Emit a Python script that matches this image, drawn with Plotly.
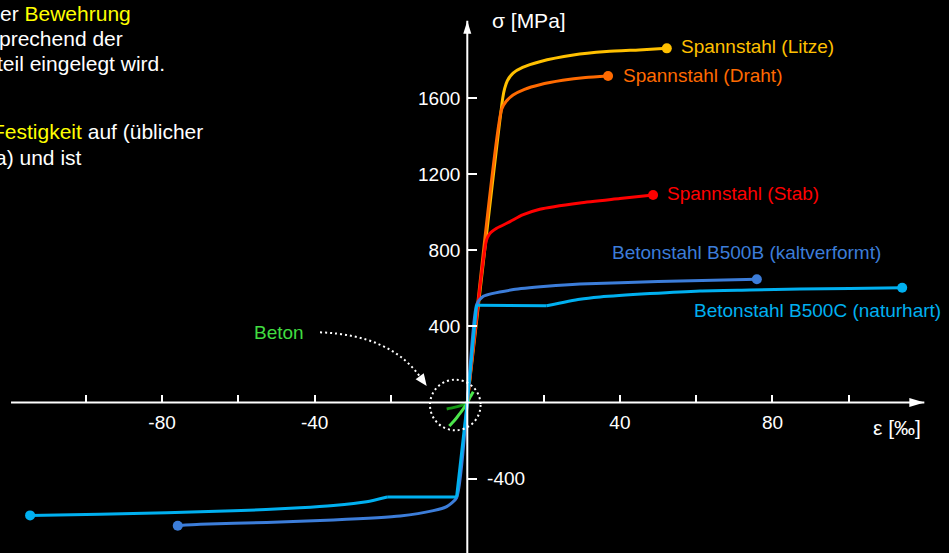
import plotly.graph_objects as go

FONT = "Liberation Sans, Arial, Helvetica, sans-serif"

# ---------------------------------------------------------------------------
# Stress-strain curves: strain in ‰, stress in MPa
# ---------------------------------------------------------------------------
litze_eps = [0, 9.3, 9.8, 10.5, 12.0, 14.5, 19.0, 27.8, 36.5, 45.0, 52.3]
litze_sig = [0, 1600, 1650, 1690, 1730, 1760, 1790, 1825, 1843, 1852, 1860]

draht_eps = [0, 9.0, 10.2, 12.0, 15.0, 19.0, 25.0, 31.0, 36.9]
draht_sig = [0, 1540, 1582, 1615, 1645, 1669, 1692, 1707, 1715]

stab_eps = [0, 5.0, 5.8, 7.7, 11.2, 14.5, 19.0, 29.5, 40.0, 48.7]
stab_sig = [0, 850, 885, 915, 950, 985, 1015, 1048, 1071, 1090]

b500b_eps = [-75.9, -70.0, -52.6, -35.1, -17.6, -8.9, -5.4, -2.8, 0,
             2.46, 4.2, 12.1, 20.8, 29.5, 50.0, 75.9]
b500b_sig = [-647, -640, -630, -617, -596, -568, -547, -500, 0,
             514, 558, 593, 610, 622, 635, 647]

b500c_eps = [-114.6, -96.3, -78.8, -61.3, -43.9, -35.1, -26.4, -21.0, -2.8, 0,
             2.45, 20.8, 29.5, 34.8, 47.9, 61.0, 74.0, 87.2, 100.3, 114.0]
b500c_sig = [-593, -587, -579, -569, -553, -541, -521, -496, -496, 0,
             511, 508, 542, 554, 572, 586, 591, 596, 599, 603]
# indices where the B500C curve has a sharp kink
b500c_kinks = [7, 8, 10, 11]

beton_eps = [-5.4, -3.7, -1.9, -0.6, 0]
beton_sig = [-34, -27, -18, -8, 0]

beton_hf_eps = [-4.72, -3.67, -2.78, -1.91, -1.05, -0.16, 0.71, 1.57]
beton_hf_sig = [-123, -101, -80, -57, -34, -8, 27, 57]

# axis ticks
x_tickvals = [-100, -80, -60, -40, -20, 20, 40, 60, 80, 100]
x_ticktext = ["", "-80", "", "-40", "", "", "40", "", "80", ""]
y_tickvals = [400, 800, 1200, 1600]
y_ticktext = ["400", "800", "1200", "1600"]
y2_tickvals = [-400]
y2_ticktext = ["-400"]

# side text (cut at the left border of the slide)
side_lines = [
    ("er <span style='color:#FFFF00'>Bewehrung</span>", 131.7, 13.5),
    ("prechend der", 124.0, 38.5),
    ("teil eingelegt wird.", 166.0, 64.0),
    ("<span style='color:#FFFF00'>Festigkeit</span> auf (üblicher", 204.0, 131.5),
    ("a) und ist", 82.7, 157.5),
]

W, H = 949, 553
X_RANGE = [-122.49, 126.27]
Y_RANGE = [-790.4, 2114.0]
Y_AXIS_POS = 467.3 / W          # paper x of the vertical axis
X_AXIS_POS = (H - 402.5) / H    # paper y of the horizontal axis

C_LITZE = "#FFC000"
C_DRAHT = "#FF6A00"
C_STAB = "#FF0000"
C_B500B = "#3C7DD9"
C_B500C = "#00B0F0"
C_BETON_DARK = "#129612"
C_BETON_LIGHT = "#4CE64C"
C_BETON_TXT = "#40DD40"

LABEL_SIZE = 19
TITLE_SIZE = 21

fig = go.Figure()


def curve(xs, ys, color, ends, kinks=()):
    """Smooth line through the points; sharp corners at the given indices."""
    cuts = [0] + list(kinks) + [len(xs) - 1]
    for a, b in zip(cuts[:-1], cuts[1:]):
        fig.add_trace(go.Scatter(
            x=xs[a:b + 1], y=ys[a:b + 1], mode="lines", hoverinfo="skip",
            line=dict(color=color, width=3, shape="spline", smoothing=0.6),
        ))
    if ends:
        idx = [0, len(xs) - 1] if ends == 2 else [len(xs) - 1]
        fig.add_trace(go.Scatter(
            x=[xs[i] for i in idx], y=[ys[i] for i in idx], mode="markers",
            hoverinfo="skip", marker=dict(color=color, size=10),
        ))


curve(beton_eps, beton_sig, C_BETON_DARK, 0)
curve(beton_hf_eps, beton_hf_sig, C_BETON_LIGHT, 0)
curve(litze_eps, litze_sig, C_LITZE, 1)
curve(draht_eps, draht_sig, C_DRAHT, 1)
curve(stab_eps, stab_sig, C_STAB, 1)
curve(b500b_eps, b500b_sig, C_B500B, 2)
curve(b500c_eps, b500c_sig, C_B500C, 2, b500c_kinks)
fig.add_trace(go.Scatter(x=[], y=[], yaxis="y2", hoverinfo="skip"))

tickfont = dict(family=FONT, size=LABEL_SIZE, color="#FFFFFF")

fig.update_layout(
    width=W, height=H,
    margin=dict(l=0, r=0, t=0, b=0),
    paper_bgcolor="#000000", plot_bgcolor="#000000",
    showlegend=False,
    xaxis=dict(
        range=X_RANGE, showgrid=False, zeroline=False, showline=False,
        anchor="free", position=X_AXIS_POS,
        tickmode="array", tickvals=x_tickvals, ticktext=x_ticktext,
        ticks="inside", ticklen=8, tickwidth=2, tickcolor="#FFFFFF",
        tickfont=tickfont, ticklabelstandoff=6,
    ),
    yaxis=dict(
        range=Y_RANGE, showgrid=False, zeroline=False, showline=False,
        anchor="free", position=Y_AXIS_POS, side="left",
        tickmode="array", tickvals=y_tickvals, ticktext=y_ticktext,
        ticks="inside", ticklen=9, tickwidth=2, tickcolor="#FFFFFF",
        tickfont=tickfont, ticklabelstandoff=7,
    ),
    yaxis2=dict(
        range=Y_RANGE, overlaying="y", showgrid=False, zeroline=False,
        showline=False, anchor="free", position=Y_AXIS_POS, side="right",
        tickmode="array", tickvals=y2_tickvals, ticktext=y2_ticktext,
        ticks="outside", ticklen=9, tickwidth=2, tickcolor="#FFFFFF",
        tickfont=tickfont, ticklabelstandoff=6,
    ),
)

# ---------------------------------------------------------------------------
# Axis lines with arrow heads
# ---------------------------------------------------------------------------
X_TIP, Y_TIP = 119.8, 2005
axis_line = dict(color="#FFFFFF", width=2)
fig.add_shape(type="line", xref="x", yref="y", x0=-119.6, y0=0, x1=X_TIP, y1=0,
              line=axis_line, layer="above")
fig.add_shape(type="line", xref="x", yref="y", x0=0, y0=-800, x1=0, y1=Y_TIP,
              line=axis_line, layer="above")
fig.add_shape(type="path", xref="x", yref="y", xsizemode="pixel", ysizemode="pixel",
              xanchor=X_TIP, yanchor=0, path="M 0,0 L -15,4.5 L -15,-4.5 Z",
              fillcolor="#FFFFFF", line=dict(width=0), layer="above")
fig.add_shape(type="path", xref="x", yref="y", xsizemode="pixel", ysizemode="pixel",
              xanchor=0, yanchor=Y_TIP, path="M 0,0 L -4,-13 L 4,-13 Z",
              fillcolor="#FFFFFF", line=dict(width=0), layer="above")

# axis titles
fig.add_annotation(x=0, y=Y_TIP, xref="x", yref="y", text="σ [MPa]", showarrow=False,
                   xanchor="left", yanchor="middle", xshift=23, yshift=0,
                   font=dict(family=FONT, size=TITLE_SIZE, color="#FFFFFF"))
fig.add_annotation(x=X_TIP, y=0, xref="x", yref="y", text="ε [‰]", showarrow=False,
                   xanchor="right", yanchor="middle", xshift=-1, yshift=-25,
                   font=dict(family=FONT, size=TITLE_SIZE, color="#FFFFFF"))

# ---------------------------------------------------------------------------
# Curve labels
# ---------------------------------------------------------------------------
def label(text, x, y, color, xanchor, xshift, yshift):
    fig.add_annotation(x=x, y=y, xref="x", yref="y", text=text, showarrow=False,
                       xanchor=xanchor, yanchor="middle", xshift=xshift, yshift=yshift,
                       font=dict(family=FONT, size=LABEL_SIZE, color=color))


label("Spannstahl (Litze)", litze_eps[-1], litze_sig[-1], C_LITZE, "left", 12, 2)
label("Spannstahl (Draht)", draht_eps[-1], draht_sig[-1], C_DRAHT, "left", 13, 0)
label("Spannstahl (Stab)", stab_eps[-1], stab_sig[-1], C_STAB, "left", 12, 1)
label("Betonstahl B500B (kaltverformt)", b500b_eps[-1], b500b_sig[-1], C_B500B,
      "center", -10, 27)
label("Betonstahl B500C (naturhart)", b500c_eps[-1], b500c_sig[-1], C_B500C,
      "right", 41, -23)

# ---------------------------------------------------------------------------
# Concrete: dotted circle around the origin and curved dotted pointer
# ---------------------------------------------------------------------------
dotted = dict(color="#FFFFFF", width=2, dash="2px,3px")
fig.add_shape(type="circle", xref="x", yref="y", xsizemode="pixel", ysizemode="pixel",
              xanchor=-3.15, yanchor=-12.9, x0=-25.3, x1=25.3, y0=-25.3, y1=25.3,
              line=dotted, layer="above")

P_START = (-38.61, 368.7)
P_CTRL = (-20.26, 354.5)
P_END = (-12.48, 137.6)
P_TIP = (-10.64, 86.7)
fig.add_shape(type="path", xref="x", yref="y", line=dotted, layer="above",
              path=f"M {P_START[0]},{P_START[1]} Q {P_CTRL[0]},{P_CTRL[1]} {P_END[0]},{P_END[1]}")

# arrow head (pixel space, y pointing up) along the curve's final direction
dx, dy = 0.584, -0.812
hl, hw = 12.0, 5.0
bx, by = -hl * dx, -hl * dy
px_, py_ = -dy, dx
head = (f"M 0,0 L {bx + hw * px_:.2f},{by + hw * py_:.2f} "
        f"L {bx - hw * px_:.2f},{by - hw * py_:.2f} Z")
fig.add_shape(type="path", xref="x", yref="y", xsizemode="pixel", ysizemode="pixel",
              xanchor=P_TIP[0], yanchor=P_TIP[1], path=head,
              fillcolor="#FFFFFF", line=dict(width=0), layer="above")

fig.add_annotation(x=P_START[0], y=P_START[1], xref="x", yref="y", text="Beton",
                   showarrow=False, xanchor="right", yanchor="middle", xshift=-14,
                   yshift=0, font=dict(family=FONT, size=LABEL_SIZE, color=C_BETON_TXT))

# ---------------------------------------------------------------------------
# Side text
# ---------------------------------------------------------------------------
for text, right_px, mid_px in side_lines:
    fig.add_annotation(x=right_px / W, y=1 - mid_px / H, xref="paper", yref="paper",
                       text=text, showarrow=False, xanchor="right", yanchor="middle",
                       borderpad=0, font=dict(family=FONT, size=TITLE_SIZE, color="#FFFFFF"))

fig.write_html("out.html")
